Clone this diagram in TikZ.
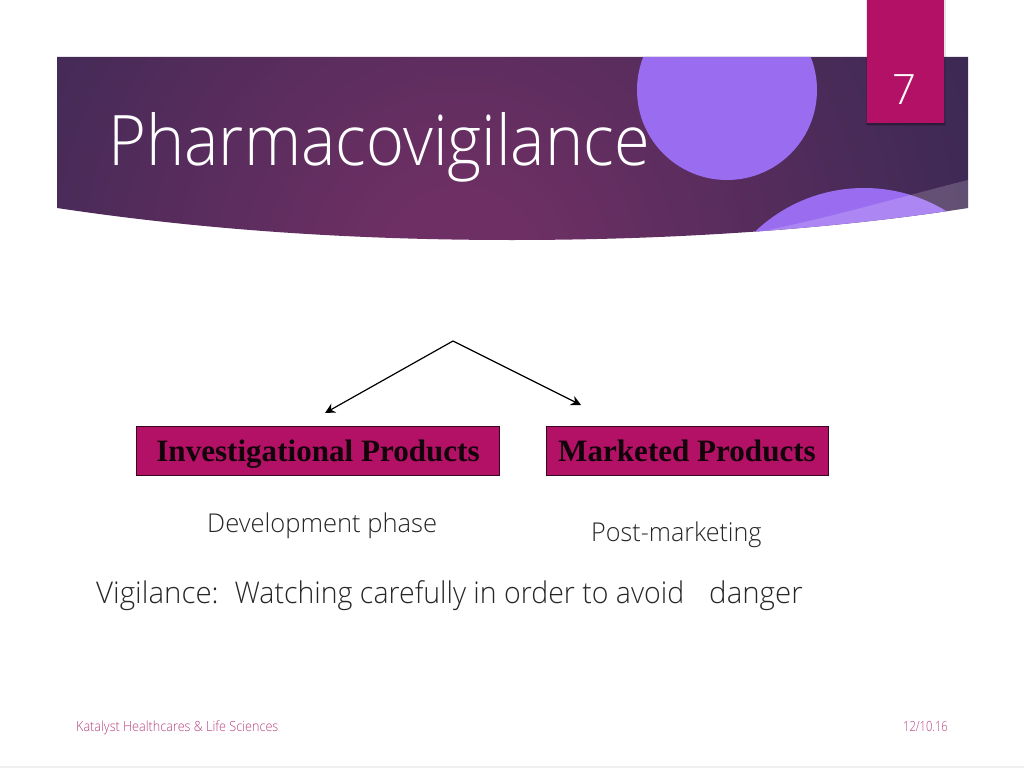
\documentclass[tikz,border=0pt]{standalone}
\usepackage{fontspec}
\setmainfont{Open Sans Light}
\newfontfamily\tms{Liberation Serif}[BoldFont={Liberation Serif Bold}]
\newcommand{\stretchto}[1]{\addfontfeature{FakeStretch=#1}}
\usetikzlibrary{arrows.meta,shadows}
\definecolor{berry}{HTML}{B31166}
\definecolor{violetdisc}{HTML}{9A6CF0}
\definecolor{footpink}{HTML}{B5417F}
\definecolor{bandin}{HTML}{6E2F64}
\definecolor{bandout}{HTML}{302850}
\pgfdeclareradialshading{bandshade}{\pgfpoint{0bp}{0bp}}{color(0bp)=(bandin);color(2.5bp)=(bandin);color(23bp)=(bandout);color(50bp)=(bandout)}
\tikzset{
  x=1bp,y=-1bp,
  prod/.style={draw=black!70!berry,fill=berry,line width=1bp,minimum height=49bp,inner sep=0pt,text height=28bp,text depth=6bp,font=\tms\bfseries\fontsize{31.2}{36}\selectfont,text=black!90!berry},
  plain/.style={inner sep=0pt,anchor=base west,text=black!85},
  foot/.style={inner sep=0pt,text=footpink},
  link/.style={draw=black,line width=1.2bp,-{Stealth[length=10bp,width=10bp]}}
}
\begin{document}
\begin{tikzpicture}
\useasboundingbox (0,0) rectangle (1024,768);
\fill[black!6] (0,766) rectangle (1024,768);
% band
\begin{scope}
\clip (57,57) -- (968,57) -- (968,208) .. controls (820,231) and (660,240) .. (512,240) .. controls (340,240) and (190,228) .. (57,208) -- cycle;
\shade[shading=bandshade] (-252,-442) rectangle (1172,982);
\fill[violetdisc] (727,90) circle[radius=90];
\fill[violetdisc] (864,346) circle[radius=158];
\fill[white,opacity=.18] (753,233) .. controls (830,218) and (900,197) .. (968,180) -- (968,215) -- (753,240) -- cycle;
\end{scope}
% tab
\fill[black,opacity=.10] (866,0) rectangle (946,125.5);
\fill[black,opacity=.25] (867,123) rectangle (945,125);
\node[fill=berry,minimum width=77bp,minimum height=123bp,inner sep=0pt,anchor=north west] (tab) at (867,0) {};
\node[inner sep=0pt,anchor=base,text=white,font=\fontsize{42}{50}\selectfont] (pg) at (904,104) {7};
\node[inner sep=0pt,anchor=base west,text=white,font=\fontsize{70}{84}\selectfont\stretchto{0.93}] (title) at (108,165) {Pharmacovigilance};
% boxes
\node[prod,minimum width=363bp] (inv) at (318,450.5) {Investigational Products};
\node[prod,minimum width=282bp] (mkt) at (687,450.5) {Marketed Products};
\coordinate (apex) at (453,341);
\coordinate (endl) at (325,413);
\coordinate (endr) at (581,405);
\draw[link] (apex) -- (endl);
\draw[link] (apex) -- (endr);
\node[plain,font=\fontsize{26}{31}\selectfont\stretchto{0.987}] (dev) at (207,532) {Development phase};
\node[plain,font=\fontsize{26}{31}\selectfont\stretchto{0.97}] (post) at (591,541) {Post-marketing};
\node[plain,font=\fontsize{30}{36}\selectfont] (vig) at (96,603) {{\stretchto{0.985}Vigilance:}\hspace{16bp}{\stretchto{0.953}Watching carefully in order to avoid}\hspace{25bp}{\stretchto{0.985}danger}};
\node[foot,anchor=base west,font=\fontsize{14}{17}\selectfont\stretchto{0.905}] (ft) at (76,731) {Katalyst Healthcares \& Life Sciences};
\node[foot,anchor=base east,font=\fontsize{14}{17}\selectfont\stretchto{0.8}] (dt) at (948,731) {12/10.16};
\end{tikzpicture}
\end{document}
